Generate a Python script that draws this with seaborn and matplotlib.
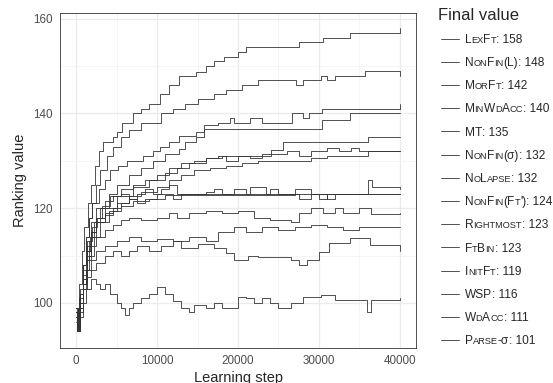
import pandas as pd
import seaborn as sns
import matplotlib.pyplot as plt
from matplotlib.lines import Line2D

# (learning step, ranking value) at the visible step changes
lexft = [(0, 99), (150, 96), (400, 104), (700, 111), (1000, 116), (1400, 121), (1800, 125),
         (2300, 129), (2800, 132), (3300, 134), (4500, 135), (5000, 136), (5700, 138), (7000, 140),
         (8000, 141), (9000, 142), (10400, 144), (11500, 146), (12700, 147.8), (14800, 148.8),
         (16000, 150), (17000, 151), (18300, 152), (20000, 153), (21000, 154), (27500, 155),
         (30500, 156), (33800, 157), (39800, 157), (40000, 158)]
nonfin_l = [(0, 98), (200, 95), (500, 102), (800, 108), (1200, 114), (1600, 118), (2000, 121),
            (2500, 125), (3000, 128), (3800, 131), (4500, 133), (5500, 135), (6500, 136.5),
            (8000, 138), (10500, 140), (12000, 141), (13500, 142), (15000, 143), (17000, 144),
            (18500, 145), (20500, 146), (22500, 147), (26700, 147), (27200, 146), (28000, 147),
            (30300, 148), (31000, 147), (32000, 148), (35700, 149), (39800, 149), (40000, 148)]
morft = [(0, 97), (150, 95), (400, 101), (800, 108), (1200, 114), (1600, 118), (2000, 121),
         (2800, 124), (3500, 126), (4200, 128), (5200, 129), (6300, 130), (8300, 131), (9500, 132),
         (10400, 133), (11500, 134), (12700, 135.2), (14800, 136), (15800, 137.5), (17500, 138),
         (19000, 139), (19500, 138), (21500, 139), (23000, 138), (26600, 138), (26700, 140),
         (28000, 139), (28800, 140), (30300, 140), (30400, 141), (39800, 141), (40000, 142)]
minwdacc = [(0, 98), (200, 94), (500, 100), (900, 106), (1300, 111), (1700, 114), (2200, 117),
            (3000, 120), (4000, 123), (5000, 125), (6500, 127), (8000, 128.5), (9500, 130),
            (11000, 131.5), (12700, 132.5), (13500, 134), (14800, 135), (15800, 136.8),
            (30300, 136.8), (30400, 138.7), (33700, 138.7), (33800, 140), (40000, 140)]
mt = [(0, 97), (150, 94), (400, 99), (800, 104), (1200, 109), (1600, 113), (2000, 116),
      (2600, 118), (3500, 120), (5000, 122.5), (7000, 124.5), (9000, 126), (11000, 127.5),
      (12500, 128.5), (14000, 129.5), (16000, 130.5), (18000, 131), (24000, 131), (24100, 132.3),
      (25500, 132.3), (25600, 134), (36000, 134), (36100, 135), (40000, 135)]
nonfin_sigma = [(0, 99), (200, 96), (500, 102), (900, 107), (1300, 111), (1800, 115), (2400, 118),
                (3200, 120.5), (4200, 122.5), (5500, 124), (7000, 125), (8500, 126), (10000, 127),
                (11500, 128.5), (13000, 129.5), (14500, 130), (16000, 130.5), (17500, 131),
                (18500, 130), (20000, 131), (21500, 130.5), (23000, 131.5), (26000, 132),
                (27500, 131), (29000, 132), (31000, 132.8), (32500, 132), (34000, 132.8),
                (35000, 132), (40000, 132)]
nolapse = [(0, 96), (150, 94), (400, 98), (800, 103), (1200, 107), (1600, 110), (2200, 114),
           (3000, 117), (4000, 119.5), (5000, 121), (6500, 122.5), (8000, 123.5), (10000, 124.5),
           (11500, 126), (13000, 127), (14500, 128), (16500, 128.5), (18500, 129), (20500, 129.5),
           (22500, 130), (27000, 130), (29000, 130.5), (31000, 131), (36000, 131), (36100, 132),
           (40000, 132)]
nonfin_ft = [(0, 98), (200, 96), (500, 102), (900, 108), (1300, 113), (1800, 117), (2500, 120),
             (3500, 121.5), (4500, 122.5), (5500, 123), (6500, 122), (7500, 123), (8500, 124),
             (9500, 123), (10500, 124), (11500, 125), (12500, 123), (14000, 123), (16000, 123.5),
             (17000, 124), (18000, 123), (20000, 123), (21500, 124.5), (23500, 123), (26000, 123),
             (27500, 122), (29000, 123), (31000, 122), (32000, 123), (36000, 123), (36100, 126),
             (36600, 124.5), (40000, 124)]
rightmost = [(0, 97), (200, 94), (500, 99), (900, 105), (1300, 110), (1800, 114), (2500, 117),
             (3500, 119), (4500, 120), (5500, 121), (6500, 122), (7500, 121), (8500, 122),
             (10000, 123), (12000, 122), (13000, 123), (18000, 123), (19500, 124), (21000, 123),
             (24000, 124), (25000, 123), (28000, 123), (30000, 122), (31000, 123), (40000, 123)]
ftbin = [(0, 99), (200, 96), (500, 103), (900, 108), (1300, 112), (1800, 115), (2500, 117),
         (3500, 118.5), (4500, 119.5), (5500, 120.5), (7000, 121.5), (9000, 122), (11000, 122.7),
         (26000, 122.7), (27000, 124), (29000, 123), (34000, 123), (40000, 123)]
initft = [(0, 97), (200, 95), (500, 100), (900, 105), (1300, 109), (1800, 112), (2500, 114),
          (3500, 115.5), (4500, 116.5), (5500, 117.5), (6500, 118), (8000, 117.5), (10000, 118),
          (11500, 119), (12500, 118), (14000, 119), (16000, 119.5), (18000, 119), (20000, 119.5),
          (22000, 118), (24000, 117.5), (26500, 117), (27500, 119), (29000, 120), (30500, 119),
          (32000, 120), (33000, 119), (35000, 120), (36500, 118.7), (40000, 119)]
wsp = [(0, 98), (200, 95), (500, 100), (900, 104), (1300, 107), (1800, 109), (2500, 111),
       (3500, 112), (5000, 113), (6500, 114), (8000, 113), (10000, 113.5), (12000, 113),
       (14000, 114), (16000, 113), (17500, 115), (19500, 116), (21000, 115), (23000, 116),
       (25000, 115.5), (27000, 116), (29000, 116.5), (31000, 116), (33000, 115.5), (35000, 116),
       (40000, 116)]
wdacc = [(0, 99), (200, 95), (500, 100), (900, 103), (1300, 105.5), (1800, 107), (2500, 108.5),
         (3500, 110), (4500, 111), (5500, 110), (6500, 111), (7500, 112), (9000, 111),
         (10500, 112), (12000, 113), (13000, 111.5), (15000, 112.5), (17000, 111.5),
         (18500, 110.5), (19500, 109), (21200, 110), (22500, 109.7), (25000, 109.7),
         (26600, 109), (27500, 108), (28500, 109), (30000, 110.7), (31200, 112.6), (33800, 113.7),
         (36300, 112.2), (39800, 112.2), (40000, 111)]
parse_sigma = [(0, 98), (150, 94), (400, 97), (800, 100), (1200, 103), (1800, 105), (2500, 104),
               (3000, 103), (3500, 104), (4200, 102), (5000, 100), (5500, 99), (6000, 97.5),
               (6500, 99), (7000, 100), (8000, 101), (9000, 102), (10000, 103.4), (11000, 102),
               (12000, 100.5), (13000, 99), (14000, 98), (14500, 99.5), (16000, 99), (17000, 100),
               (18000, 99), (19500, 99), (20000, 101.3), (21000, 101), (22000, 100), (23000, 101),
               (24000, 100), (25000, 99), (26500, 100), (28000, 101.3), (30300, 101.6),
               (32000, 100.6), (36000, 98), (36500, 100.6), (40000, 101)]

series_names = ['LexFt', 'NonFin(L)', 'MorFt', 'MinWdAcc', 'MT', 'NonFin(σ)', 'NoLapse',
                "NonFin(Ft')", 'Rightmost', 'FtBin', 'InitFt', 'WSP', 'WdAcc', 'Parse-σ']
final_values = [158, 148, 142, 140, 135, 132, 132, 124, 123, 123, 119, 116, 111, 101]
series_points = [lexft, nonfin_l, morft, minwdacc, mt, nonfin_sigma, nolapse, nonfin_ft,
                 rightmost, ftbin, initft, wsp, wdacc, parse_sigma]

rows = []
for name, pts in zip(series_names, series_points):
    for step, val in pts:
        rows.append({'series': name, 'step': step, 'value': val})
df = pd.DataFrame(rows)

sns.set_theme(style='whitegrid')
plt.rcParams['font.family'] = ['Liberation Sans', 'DejaVu Sans']

W, H = 553, 383
line_color = '#333333'
fig, ax = plt.subplots(figsize=(W / 100, H / 100), dpi=100)
fig.subplots_adjust(left=60 / W, right=416 / W, top=1 - 13 / H, bottom=1 - 348 / H)

sns.lineplot(data=df, x='step', y='value', hue='series', hue_order=series_names,
             palette=[line_color] * len(series_names), estimator=None, sort=False,
             drawstyle='steps-post', linewidth=0.6, legend=False, ax=ax)

ax.set_xlim(-2000, 42000)
ax.set_ylim(90.5, 161.2)
ax.set_xticks([0, 10000, 20000, 30000, 40000])
ax.set_yticks([100, 120, 140, 160])
ax.set_xticks([5000, 15000, 25000, 35000], minor=True)
ax.set_yticks([110, 130, 150], minor=True)
ax.grid(which='major', color='#ebebeb', linewidth=0.9)
ax.grid(which='minor', color='#f2f2f2', linewidth=0.5)
ax.tick_params(which='major', length=2.5, width=0.6, color='#333333', labelsize=8.4,
               labelcolor='#4d4d4d', pad=2.5)
ax.tick_params(which='minor', length=0)
for sp in ax.spines.values():
    sp.set_color('#333333')
    sp.set_linewidth(0.6)

ax.set_xlabel('Learning step', fontsize=10.5, labelpad=3)
ax.set_ylabel('Ranking value', fontsize=10.5, labelpad=5)

# legend drawn by hand so the names can be set in small caps like the original
fig.text(438 / W, 1 - 15 / H, 'Final value', fontsize=12, va='center', ha='left')
renderer = fig.canvas.get_renderer()


def small_caps(label):
    pieces = []
    for ch in label:
        small = 'a' <= ch <= 'z'
        if pieces and pieces[-1][1] == small:
            pieces[-1][0] += ch.upper() if small else ch
        else:
            pieces.append([ch.upper() if small else ch, small])
    return pieces


for i, (name, val) in enumerate(zip(series_names, final_values)):
    yc = 38.5 + i * 23.2
    fig.add_artist(Line2D([441 / W, 459 / W], [1 - yc / H] * 2, color=line_color,
                          linewidth=0.6, transform=fig.transFigure))
    x = 464.5
    for txt, small in small_caps(name) + [[f': {val}', False]]:
        t = fig.text(x / W, 1 - (yc + 4.3) / H, txt, fontsize=6.7 if small else 8.6,
                     va='baseline', ha='left')
        x += t.get_window_extent(renderer).width

plt.savefig('out.png', dpi=100)
